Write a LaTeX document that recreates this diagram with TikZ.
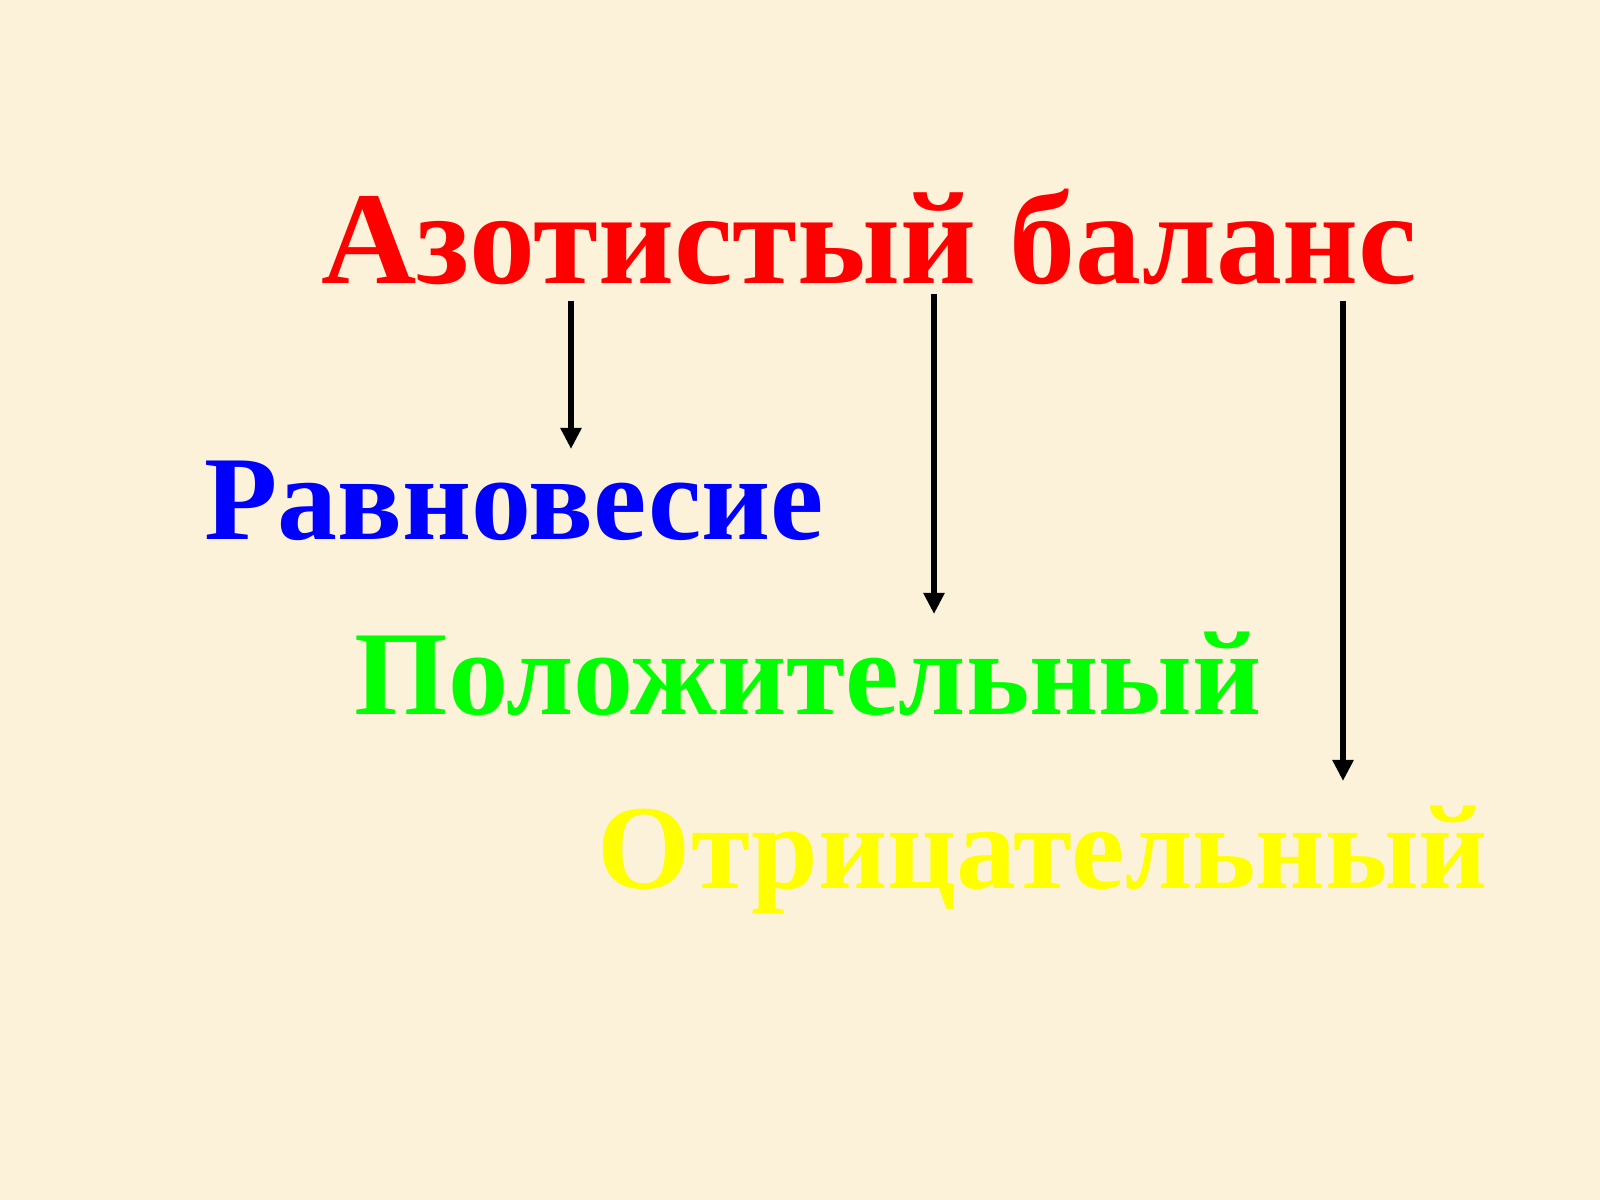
\documentclass[tikz,border=0pt]{standalone}
\usepackage{fontspec}
\setmainfont{Liberation Serif}
\usetikzlibrary{arrows.meta}
\definecolor{bg}{RGB}{252,241,217}
\definecolor{tred}{RGB}{255,0,0}
\definecolor{tblue}{RGB}{0,0,255}
\definecolor{tgreen}{RGB}{0,255,0}
\definecolor{tyellow}{RGB}{255,255,0}
\tikzset{
  title/.style={anchor=base west, inner sep=0pt, font=\bfseries\fontsize{37.5pt}{39pt}\selectfont, text=tred},
  kind/.style={anchor=base west, inner sep=0pt, font=\bfseries\fontsize{34.1pt}{36pt}\selectfont},
  arr/.style={line width=1.5pt, -{Triangle[length=0.21cm,width=0.2cm]}}
}
\begin{document}
\begin{tikzpicture}[x=0.01cm,y=-0.01cm]
\fill[bg] (0,0) rectangle (1600,1200);
\useasboundingbox (0,0) rectangle (1600,1200);
\node[title] (t) at (321,283) {Азотистый баланс};
\node[kind, text=tblue] (r) at (204,539) {Равновесие};
\node[kind, text=tgreen] (p) at (354,714) {Положительный};
\node[kind, text=tyellow] (o) at (597,888) {Отрицательный};
\coordinate (a1) at (571,301);
\coordinate (e1) at (571,449);
\coordinate (a2) at (934,294);
\coordinate (e2) at (934,614);
\coordinate (a3) at (1343,301);
\coordinate (e3) at (1343,781);
\draw[arr] (a1) -- (e1);
\draw[arr] (a2) -- (e2);
\draw[arr] (a3) -- (e3);
\end{tikzpicture}
\end{document}
